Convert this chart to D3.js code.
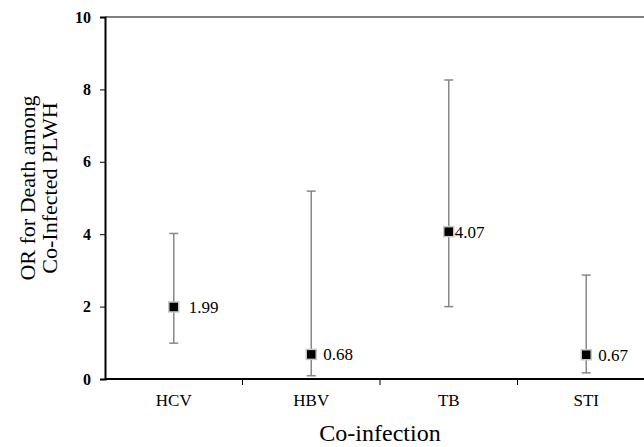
<!DOCTYPE html>
<html>
<head>
<meta charset="utf-8">
<script src="https://cdn.jsdelivr.net/npm/d3@7"></script>
<style>
  body { margin: 0; background: #fff; }
  svg { display: block; font-family: "Liberation Serif", "Times New Roman", serif; }
</style>
</head>
<body>
<svg id="chart"></svg>
<script>
const categories = ["HCV", "HBV", "TB", "STI"];
const orValues = [1.99, 0.68, 4.07, 0.67];
const lowerCI = [0.99, 0.09, 2.0, 0.17];
const upperCI = [4.02, 5.19, 8.26, 2.87];
const yTicks = [0, 2, 4, 6, 8, 10];

const data = categories.map((c, i) => ({
  cat: c, or: orValues[i], lo: lowerCI[i], hi: upperCI[i]
}));

const W = 644, H = 447;
const M = { top: 17, left: 105, bottom: 68 };
const PW = 550;
const PH = H - M.top - M.bottom;

const svg = d3.select("#chart").attr("width", W).attr("height", H);

const g = svg.append("g").attr("transform", `translate(${M.left},${M.top})`);

const x = d3.scaleBand().domain(categories).range([0, PW]).padding(0);
const y = d3.scaleLinear().domain([0, 10]).range([PH, 0]);

// top frame line
g.append("line")
  .attr("x1", 0).attr("x2", PW)
  .attr("y1", y(10)).attr("y2", y(10))
  .attr("stroke", "#808080").attr("stroke-width", 2);

// y axis
g.append("g")
  .call(d3.axisLeft(y).tickValues(yTicks).tickSize(5).tickPadding(9).tickFormat(d3.format("d")))
  .call(a => a.select(".domain").attr("stroke", "#000").attr("stroke-width", 2))
  .call(a => a.selectAll(".tick line").attr("stroke", "#000").attr("stroke-width", 1))
  .selectAll("text")
  .attr("fill", "#000")
  .attr("font-family", "Liberation Serif, serif")
  .attr("font-weight", "bold")
  .attr("font-size", 16);

// x axis: ticks on band boundaries
const xa = g.append("g").attr("transform", `translate(0,${PH})`);
xa.append("line")
  .attr("x1", 0).attr("x2", PW)
  .attr("stroke", "#000").attr("stroke-width", 2);
xa.selectAll(".xtick")
  .data(categories.slice(1))
  .enter().append("line")
  .attr("class", "xtick")
  .attr("x1", d => x(d)).attr("x2", d => x(d))
  .attr("y1", 0).attr("y2", 6)
  .attr("stroke", "#000").attr("stroke-width", 1);
xa.selectAll(".xlab")
  .data(categories)
  .enter().append("text")
  .attr("class", "xlab")
  .attr("x", d => x(d) + x.bandwidth() / 2)
  .attr("y", 27)
  .attr("text-anchor", "middle")
  .attr("font-size", 17)
  .attr("fill", "#000")
  .text(d => d);

// error bars
const cx = d => x(d.cat) + x.bandwidth() / 2;
g.selectAll(".err")
  .data(data)
  .enter().append("line")
  .attr("class", "err")
  .attr("x1", cx).attr("x2", cx)
  .attr("y1", d => y(d.lo)).attr("y2", d => y(d.hi))
  .attr("stroke", "#888").attr("stroke-width", 1.5);
["lo", "hi"].forEach(k => {
  g.selectAll(".cap-" + k)
    .data(data)
    .enter().append("line")
    .attr("class", "cap-" + k)
    .attr("x1", d => cx(d) - 4.5).attr("x2", d => cx(d) + 4.5)
    .attr("y1", d => y(d[k])).attr("y2", d => y(d[k]))
    .attr("stroke", "#888").attr("stroke-width", 1.5);
});

// markers
g.selectAll(".pt")
  .data(data)
  .enter().append("rect")
  .attr("class", "pt")
  .attr("x", d => cx(d) - 5).attr("y", d => y(d.or) - 5)
  .attr("width", 10).attr("height", 10)
  .attr("fill", "#000")
  .attr("stroke", "#c8c8c8").attr("stroke-width", 1.5);

// value labels
const labelOffset = { HCV: 15, HBV: 12, TB: 6, STI: 12 };
g.selectAll(".val")
  .data(data)
  .enter().append("text")
  .attr("class", "val")
  .attr("x", d => cx(d) + labelOffset[d.cat])
  .attr("y", d => y(d.or))
  .attr("dy", "0.35em")
  .attr("font-size", 17)
  .attr("fill", "#000")
  .text(d => d3.format(".2f")(d.or));

// axis titles
svg.append("text")
  .attr("x", M.left + PW / 2)
  .attr("y", 441)
  .attr("text-anchor", "middle")
  .attr("font-size", 24)
  .attr("fill", "#000")
  .text("Co-infection");

const yt = svg.append("text")
  .attr("transform", `translate(0,188) rotate(-90)`)
  .attr("text-anchor", "middle")
  .attr("font-size", 22)
  .attr("fill", "#000");
yt.append("tspan").attr("x", 0).attr("y", 35).text("OR for Death among");
yt.append("tspan").attr("x", 0).attr("y", 57).text("Co-Infected PLWH");
</script>
</body>
</html>
